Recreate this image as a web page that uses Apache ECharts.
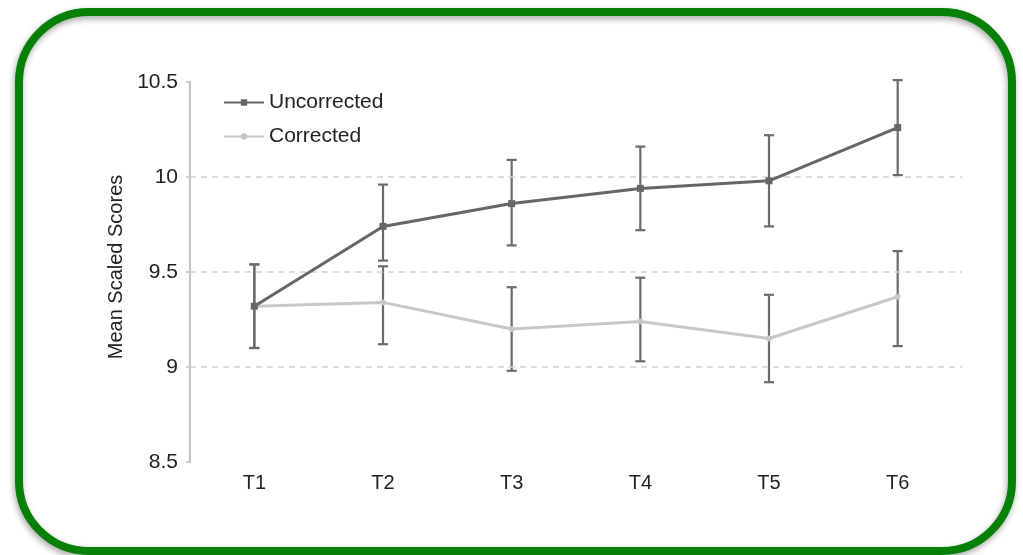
<!DOCTYPE html>
<html>
<head>
<meta charset="utf-8">
<script src="https://cdn.jsdelivr.net/npm/echarts@6/dist/echarts.min.js"></script>
<style>
  html, body { margin: 0; padding: 0; background: #ffffff; }
  #chart { width: 1023px; height: 555px; }
</style>
</head>
<body>
<div id="chart"></div>
<script>
// Time points
var categories = ['T1', 'T2', 'T3', 'T4', 'T5', 'T6'];

// Mean scaled scores
var uncorrected = [9.32, 9.74, 9.86, 9.94, 9.98, 10.26];
var corrected   = [9.32, 9.34, 9.20, 9.24, 9.15, 9.37];

// Error bar bounds (low, high)
var uncorrectedLow  = [9.10, 9.56, 9.64, 9.72, 9.74, 10.01];
var uncorrectedHigh = [9.54, 9.96, 10.09, 10.16, 10.22, 10.51];
var correctedLow    = [9.10, 9.12, 8.98, 9.03, 8.92, 9.11];
var correctedHigh   = [9.54, 9.53, 9.42, 9.47, 9.38, 9.61];

// Value axis tick values
var yTicks = [8.5, 9, 9.5, 10, 10.5];
var gridValues = [9, 9.5, 10];

var FONT = '"Liberation Sans", Arial, Helvetica, sans-serif';

function barData(low, high) {
  return low.map(function (l, i) { return [i, l, high[i]]; });
}

function renderErrorBar(params, api) {
  var x = api.value(0);
  var lo = api.coord([x, api.value(1)]);
  var hi = api.coord([x, api.value(2)]);
  var half = 5;
  var style = { stroke: '#6b6b6b', lineWidth: 2.2 };
  return {
    type: 'group',
    children: [
      { type: 'line', shape: { x1: lo[0], y1: lo[1], x2: hi[0], y2: hi[1] }, style: style },
      { type: 'line', shape: { x1: hi[0] - half, y1: hi[1], x2: hi[0] + half, y2: hi[1] }, style: style },
      { type: 'line', shape: { x1: lo[0] - half, y1: lo[1], x2: lo[0] + half, y2: lo[1] }, style: style }
    ]
  };
}

var chart = echarts.init(document.getElementById('chart'), null, { renderer: 'canvas' });

chart.setOption({
  backgroundColor: '#ffffff',
  animation: false,
  graphic: [{
    type: 'rect',
    z: -10,
    silent: true,
    shape: { x: 19, y: 12, width: 993, height: 539, r: 70 },
    style: {
      fill: 'transparent',
      stroke: '#068006',
      lineWidth: 8,
      shadowBlur: 6,
      shadowOffsetX: -1,
      shadowOffsetY: 3,
      shadowColor: 'rgba(0,0,0,0.35)'
    }
  }],
  legend: {
    left: 218,
    top: 87,
    orient: 'vertical',
    itemGap: 13,
    itemWidth: 40,
    itemHeight: 8,
    textStyle: { fontFamily: FONT, fontSize: 21, color: '#222222' },
    data: ['Uncorrected', 'Corrected']
  },
  grid: { left: 190, right: 61, top: 82, bottom: 93 },
  xAxis: {
    type: 'category',
    data: categories,
    boundaryGap: true,
    axisLine: { show: false },
    axisTick: { show: false },
    axisLabel: { fontFamily: FONT, fontSize: 20, color: '#222222', margin: 11 },
    splitLine: { show: false }
  },
  yAxis: {
    type: 'value',
    min: yTicks[0],
    max: yTicks[yTicks.length - 1],
    interval: 0.5,
    name: 'Mean Scaled Scores',
    nameLocation: 'middle',
    nameGap: 62,
    nameRotate: 90,
    nameTextStyle: { fontFamily: FONT, fontSize: 20, color: '#222222', padding: [0, 0, 0, 10] },
    axisLine: { show: true, lineStyle: { color: '#c4c4c4', width: 2 } },
    axisTick: { show: true, length: 4, lineStyle: { color: '#c4c4c4', width: 1.5 } },
    axisLabel: {
      fontFamily: FONT, fontSize: 21, color: '#222222', margin: 12,
      formatter: function (v) { return String(v); }
    },
    splitLine: { show: false }
  },
  series: [
    {
      name: 'corrected-error',
      type: 'custom',
      renderItem: renderErrorBar,
      data: barData(correctedLow, correctedHigh),
      z: 3,
      silent: true,
      encode: { x: 0, y: [1, 2] }
    },
    {
      name: 'uncorrected-error',
      type: 'custom',
      renderItem: renderErrorBar,
      data: barData(uncorrectedLow, uncorrectedHigh),
      z: 3,
      silent: true,
      encode: { x: 0, y: [1, 2] }
    },
    {
      name: 'Corrected',
      type: 'line',
      data: corrected,
      z: 4,
      symbol: 'circle',
      symbolSize: 6,
      lineStyle: { color: '#c8c8c8', width: 3 },
      itemStyle: { color: '#c8c8c8' },
      markLine: {
        silent: true,
        symbol: 'none',
        label: { show: false },
        lineStyle: { color: '#d2d2d2', type: [6, 5], width: 1.5 },
        data: gridValues.map(function (v) { return { yAxis: v }; })
      }
    },
    {
      name: 'Uncorrected',
      type: 'line',
      data: uncorrected,
      z: 5,
      symbol: 'rect',
      symbolSize: 7,
      lineStyle: { color: '#666666', width: 3 },
      itemStyle: { color: '#666666' }
    }
  ]
});
</script>
</body>
</html>
